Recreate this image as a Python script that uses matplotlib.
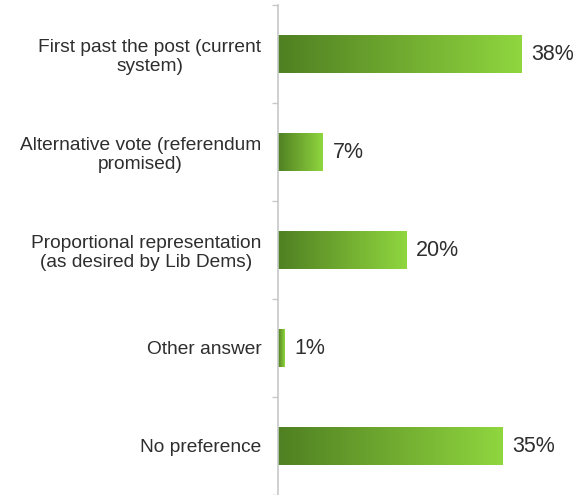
import matplotlib
matplotlib.use("Agg")
import matplotlib.pyplot as plt
from matplotlib.colors import LinearSegmentedColormap
import numpy as np

categories = [
    "First past the post (current\nsystem)",
    "Alternative vote (referendum\npromised)",
    "Proportional representation\n(as desired by Lib Dems)",
    "Other answer",
    "No preference",
]
values = [38, 7, 20, 1, 35]
value_labels = ["38%", "7%", "20%", "1%", "35%"]

plt.rcParams["font.family"] = ["Liberation Sans", "DejaVu Sans"]

green = LinearSegmentedColormap.from_list("green", ["#4f8022", "#70aa30", "#8fd63f"])

fig = plt.figure(figsize=(5.79, 4.95), dpi=100)
ax = fig.add_axes([278 / 579, 0.0, 301 / 579, 490 / 495])

y = np.arange(len(categories))
bars = ax.barh(y, values, height=0.39, color="none", edgecolor="none")

# fill each bar with a left-to-right gradient
grad = np.linspace(0, 1, 256).reshape(1, -1)
for bar in bars:
    x0, y0 = bar.get_x(), bar.get_y()
    w, h = bar.get_width(), bar.get_height()
    im = ax.imshow(grad, cmap=green, aspect="auto",
                   extent=(x0, x0 + w, y0 + h, y0), zorder=2)
    im.set_clip_path(bar)

for yi, v, lab in zip(y, values, value_labels):
    ax.text(v + 1.5, yi, lab, va="center", ha="left",
            fontsize=15.5, color="#2e2e2e")

ax.set_xlim(0, 301 / 6.42)
ax.set_ylim(len(categories) - 0.5, -0.5)

ax.set_yticks(y)
ax.set_yticklabels(categories, fontsize=13.8, color="#2e2e2e")
for t in ax.get_yticklabels():
    t.set_multialignment("center")
    t.set_linespacing(1.15)
ax.tick_params(axis="y", which="major", length=0, pad=12)
ax.set_yticks(np.arange(-0.5, len(categories), 1.0), minor=True)
ax.tick_params(axis="y", which="minor", length=4, color="#c8c8c8", width=1)
ax.set_xticks([])

for s in ["top", "right", "bottom"]:
    ax.spines[s].set_visible(False)
ax.spines["left"].set_color("#c8c8c8")
ax.spines["left"].set_linewidth(1.2)

fig.savefig("out.png", dpi=100)
